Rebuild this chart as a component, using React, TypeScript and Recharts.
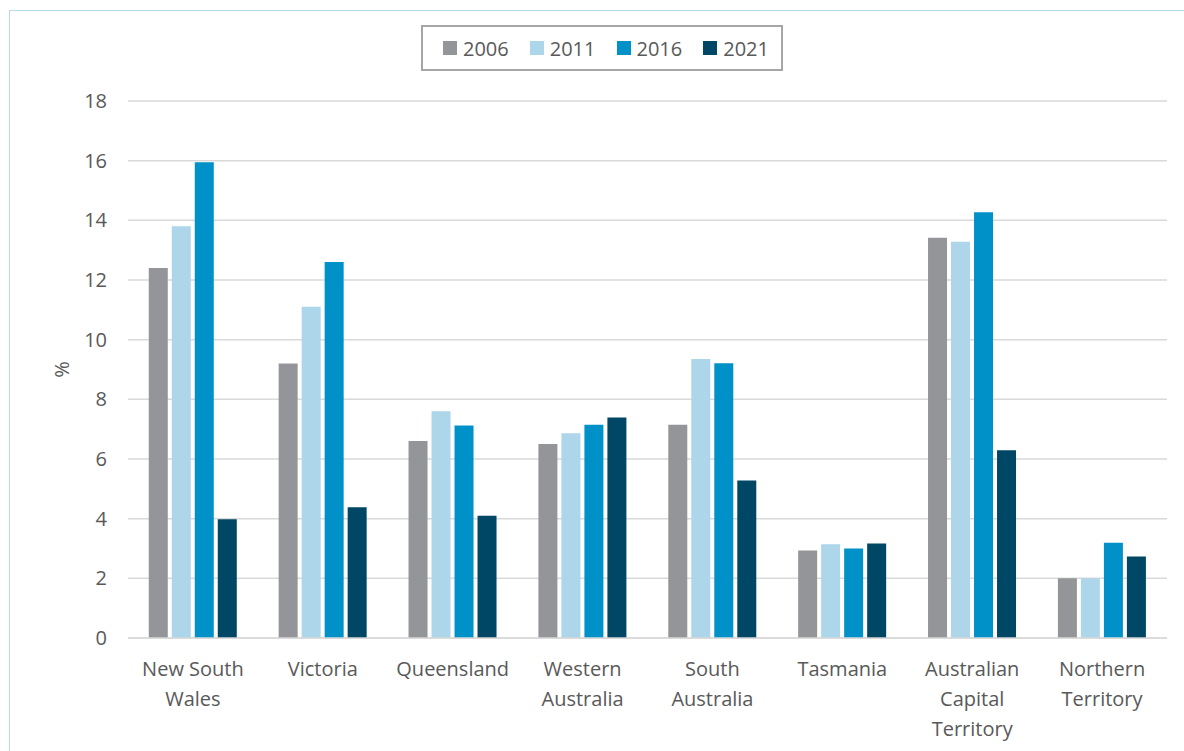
import { Bar, BarChart, CartesianGrid, Label, Legend, XAxis, YAxis } from 'recharts';

const states = [
  'New South Wales',
  'Victoria',
  'Queensland',
  'Western Australia',
  'South Australia',
  'Tasmania',
  'Australian Capital Territory',
  'Northern Territory',
];

const y2006 = [12.4, 9.2, 6.6, 6.5, 7.15, 2.93, 13.42, 2.0];
const y2011 = [13.8, 11.1, 7.6, 6.86, 9.35, 3.14, 13.28, 2.0];
const y2016 = [15.95, 12.6, 7.12, 7.15, 9.21, 3.0, 14.27, 3.19];
const y2021 = [3.98, 4.38, 4.1, 7.39, 5.28, 3.17, 6.29, 2.73];

const yTicks = [0, 2, 4, 6, 8, 10, 12, 14, 16, 18];

const series = [
  { key: 'y2006', name: '2006', color: '#939598' },
  { key: 'y2011', name: '2011', color: '#ADD6EA' },
  { key: 'y2016', name: '2016', color: '#0091C9' },
  { key: 'y2021', name: '2021', color: '#004665' },
];

const data = states.map((state, i) => ({
  state,
  y2006: y2006[i],
  y2011: y2011[i],
  y2016: y2016[i],
  y2021: y2021[i],
}));

const FONT = '"Open Sans", "Noto Sans", sans-serif';
const TEXT = '#595959';

// greedy word wrap for the category labels
function wrap(label: string, maxChars: number): string[] {
  const lines: string[] = [];
  let cur = '';
  for (const w of label.split(' ')) {
    const next = cur ? cur + ' ' + w : w;
    if (next.length > maxChars && cur) {
      lines.push(cur);
      cur = w;
    } else {
      cur = next;
    }
  }
  if (cur) lines.push(cur);
  return lines;
}

function CategoryTick(props: any) {
  const { x, y, payload } = props;
  const lines = wrap(payload.value, 11);
  return (
    <text x={x} y={y} textAnchor="middle" fill={TEXT} fontSize={20} fontFamily={FONT}>
      {lines.map((line, i) => (
        <tspan key={i} x={x} dy={30}>
          {line}
        </tspan>
      ))}
    </text>
  );
}

function LegendBox() {
  return (
    <div style={{ display: 'flex', justifyContent: 'center', paddingLeft: 20 }}>
      <div
        style={{
          display: 'flex',
          alignItems: 'center',
          gap: 21,
          border: '2px solid #A6A6A6',
          height: 42,
          padding: '0 12px 0 20px',
          fontFamily: FONT,
          fontSize: 20,
          color: TEXT,
        }}
      >
        {series.map((s) => (
          <div key={s.key} style={{ display: 'flex', alignItems: 'center', gap: 6 }}>
            <span style={{ width: 14, height: 14, background: s.color, display: 'inline-block' }} />
            <span>{s.name}</span>
          </div>
        ))}
      </div>
    </div>
  );
}

function PercentLabel(props: any) {
  const { viewBox } = props;
  const cx = 61;
  const cy = viewBox.y + viewBox.height / 2;
  return (
    <text
      x={cx}
      y={cy}
      transform={`rotate(-90, ${cx}, ${cy})`}
      textAnchor="middle"
      dominantBaseline="central"
      fill={TEXT}
      fontSize={20}
      fontFamily={FONT}
    >
      %
    </text>
  );
}

export default function App() {
  return (
    <div style={{ position: 'relative', width: 1184, height: 751, overflow: 'hidden', background: '#fff' }}>
      <style>{'body{margin:0}'}</style>
      <div
        style={{
          position: 'absolute',
          left: 9,
          top: 10,
          width: 1200,
          height: 800,
          border: '1px solid #B4DCEC',
          boxSizing: 'border-box',
        }}
      />
      <div style={{ position: 'absolute', left: 0, top: 0 }}>
        <BarChart
          width={1184}
          height={751}
          data={data}
          margin={{ top: 55, right: 17, bottom: 13, left: 0 }}
          barGap={4}
          barCategoryGap="16%"
        >
          <CartesianGrid vertical={false} stroke="#D9D9D9" strokeWidth={1.5} />
          <XAxis
            dataKey="state"
            height={100}
            interval={0}
            axisLine={{ stroke: '#D9D9D9', strokeWidth: 1.5 }}
            tickLine={false}
            tick={<CategoryTick />}
          />
          <YAxis
            width={128}
            domain={[0, 18]}
            ticks={yTicks}
            axisLine={false}
            tickLine={false}
            tickSize={0}
            tickMargin={21}
            tick={{ fill: TEXT, fontSize: 20, fontFamily: FONT }}
          >
            <Label content={<PercentLabel />} />
          </YAxis>
          <Legend verticalAlign="top" content={<LegendBox />} wrapperStyle={{ top: 25, left: 0, width: 1184 }} />
          {series.map((s) => (
            <Bar key={s.key} dataKey={s.key} name={s.name} fill={s.color} isAnimationActive={false} />
          ))}
        </BarChart>
      </div>
    </div>
  );
}
